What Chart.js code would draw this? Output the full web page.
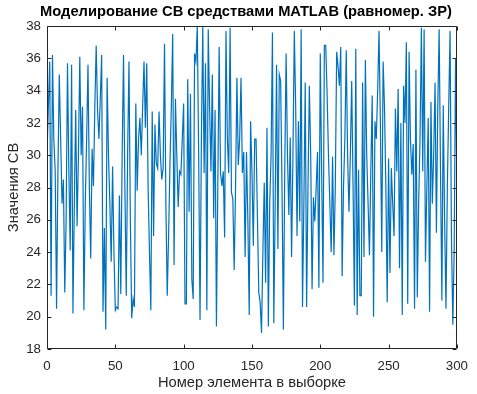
<!DOCTYPE html>
<html>
<head>
<meta charset="utf-8">
<script src="https://cdn.jsdelivr.net/npm/chart.js@4.4.1/dist/chart.umd.min.js"></script>
<style>
  html, body { margin: 0; padding: 0; background: #fff; }
  #wrap { width: 477px; height: 394px; }
</style>
</head>
<body>
<div id="wrap"><canvas id="myChart" width="477" height="394"></canvas></div>
<script>
  // values, sample 0..300
  const sampleValues = [
    30, 33, 35.8, 21.3, 36.2, 31, 29, 20.5, 29, 35,
    31, 27, 28.5, 21.5, 26, 35.7, 29, 24.1, 35.6, 20.2,
    27, 32.8, 25.6, 30, 36.1, 30, 33, 20.4, 27, 31,
    35.6, 28, 23.6, 30.4, 28.1, 33, 36.8, 32.8, 31, 33.5,
    36.2, 20.3, 25.5, 19.2, 34.8, 30, 27, 23.4, 29.3, 24,
    20.4, 20.6, 20.5, 27.5, 21.4, 30, 36.2, 28, 21.3, 30,
    35.8, 26, 19.9, 21.1, 20.6, 33.2, 27.8, 31, 32.3, 30,
    33, 35.8, 31.7, 35.7, 28, 24, 20.4, 32.7, 25, 31.9,
    29.5, 29.2, 32.7, 30, 28.5, 29.2, 36.9, 27, 21.3, 25,
    29.5, 33, 37.5, 23.2, 33.5, 30, 26.8, 29, 28.8, 31,
    33.2, 20.8, 20.8, 34.7, 26.5, 33.8, 22.3, 21.1, 36.3, 35.8,
    38, 30, 19.8, 31, 38, 28.9, 35.7, 20.4, 37.8, 33,
    29, 35, 26.1, 32.8, 19.4, 28, 36.7, 28.9, 28.1, 29,
    24.9, 37.7, 31, 28.9, 37.9, 27.7, 27.3, 22.9, 28, 34.8,
    29.4, 31, 34.8, 28.9, 30.2, 23.7, 30.2, 26, 20.1, 32.1,
    29, 24.4, 31, 31, 26.2, 21.5, 20.9, 19, 24, 28.3,
    22.1, 31.7, 19.4, 27, 30, 37.6, 19.6, 27, 35.6, 24.2,
    35, 34.6, 28, 19.2, 29, 36.3, 30, 26.3, 31.1, 23.7,
    30, 37.7, 33, 25, 32.1, 25.9, 37.8, 20.6, 27, 34.5,
    20.6, 28, 34.3, 30, 21.7, 27.4, 25.9, 28, 30.2, 21.8,
    36.3, 29, 22.1, 36.8, 36.8, 33.8, 30, 27, 24, 29.9,
    23.8, 28, 36.4, 35.5, 34.3, 36.7, 22.5, 28, 31, 36.5,
    30, 26.5, 30, 34.6, 28, 20.7, 36.6, 20.1, 29.1, 21.3,
    21.3, 34.5, 23.7, 35.9, 30, 27, 23.8, 29, 33.7, 20,
    32.1, 31, 34, 37.7, 32, 24, 35.8, 33, 28, 20.9,
    29.8, 22.7, 29.2, 27, 25, 32.9, 29, 34.1, 23, 32,
    20.1, 34.3, 32, 37, 20.8, 36.4, 31, 28.8, 30.7, 20.5,
    35.3, 21.2, 27, 31, 37.9, 29, 37.8, 23.4, 28, 32.3,
    20.3, 33.3, 27, 30, 34.5, 25.2, 33, 37.8, 29, 21,
    33.1, 26, 20.5, 28, 33, 37.7, 25, 19.5, 24, 36,
    28
  ];
  const sampleIndex = sampleValues.map((v, i) => i);
  const xTicks = [0, 50, 100, 150, 200, 250, 300];
  const yTicks = [18, 20, 22, 24, 26, 28, 30, 32, 34, 36, 38];

  const axisColor = '#262626';
  const fontFamily = 'Liberation Sans, Arial, sans-serif';

  // MATLAB style box with inward ticks on all four sides
  const boxPlugin = {
    id: 'boxPlugin',
    afterDraw(chart) {
      const ctx = chart.ctx;
      const a = chart.chartArea;
      const xs = chart.scales.x;
      const ys = chart.scales.y;
      const L = Math.round(a.left) + 0.5, R = Math.round(a.right) - 0.5;
      const T = Math.round(a.top) + 0.5, B = Math.round(a.bottom) - 0.5;
      ctx.save();
      ctx.strokeStyle = axisColor;
      ctx.lineWidth = 1;
      ctx.beginPath();
      ctx.rect(L, T, R - L, B - T);
      xTicks.forEach(t => {
        const px = Math.round(xs.getPixelForValue(t)) + 0.5;
        ctx.moveTo(px, B); ctx.lineTo(px, B - 4);
        ctx.moveTo(px, T); ctx.lineTo(px, T + 4);
      });
      yTicks.forEach(t => {
        const py = Math.round(ys.getPixelForValue(t)) + 0.5;
        ctx.moveTo(L, py); ctx.lineTo(L + 4, py);
        ctx.moveTo(R, py); ctx.lineTo(R - 4, py);
      });
      ctx.stroke();
      ctx.restore();
    }
  };

  const data = {
    labels: sampleIndex,
    datasets: [{
      label: 'СВ',
      borderColor: '#0072BD',
      backgroundColor: '#0072BD',
      borderWidth: 1.2,
      pointRadius: 0,
      tension: 0,
      data: sampleValues.map((v, i) => ({ x: sampleIndex[i], y: v })),
    }]
  };

  const config = {
    type: 'line',
    data: data,
    options: {
      responsive: false,
      animation: false,
      layout: { padding: { left: 15, right: 0, top: 0, bottom: 0 } },
      plugins: {
        legend: { display: false },
        tooltip: { enabled: false },
        title: {
          display: true,
          text: 'Моделирование СВ средствами MATLAB (равномер. ЗР)',
          color: '#000',
          font: { family: fontFamily, size: 14.7, weight: 'bold' },
          padding: { top: 3, bottom: 5.4 }
        }
      },
      scales: {
        x: {
          type: 'linear',
          min: 0,
          max: 300,
          afterFit(scale) { scale.height = 45; },
          afterBuildTicks(scale) { scale.ticks = xTicks.map(v => ({ value: v })); },
          grid: { display: false, drawTicks: false },
          border: { display: false },
          ticks: {
            color: axisColor,
            padding: 9,
            maxRotation: 0,
            font: { family: fontFamily, size: 13.3 }
          },
          title: {
            display: true,
            text: 'Номер элемента в выборке',
            color: axisColor,
            padding: { top: 0, bottom: 2 },
            font: { family: fontFamily, size: 14.7 }
          }
        },
        y: {
          min: 18,
          max: 38,
          afterFit(scale) { scale.width = 32; },
          afterBuildTicks(scale) { scale.ticks = yTicks.map(v => ({ value: v })); },
          grid: { display: false, drawTicks: false },
          border: { display: false },
          ticks: {
            color: axisColor,
            padding: 6,
            font: { family: fontFamily, size: 13.3 }
          },
          title: {
            display: true,
            text: 'Значения СВ',
            color: axisColor,
            padding: { top: -10, bottom: 0 },
            font: { family: fontFamily, size: 14.7 }
          }
        },
        yRight: {
          position: 'right',
          display: true,
          afterFit(scale) { scale.width = 19; },
          grid: { display: false, drawTicks: false },
          border: { display: false },
          ticks: { display: false }
        }
      }
    },
    plugins: [boxPlugin]
  };

  const myChart = new Chart(
    document.getElementById('myChart'),
    config
  );
</script>
</body>
</html>
